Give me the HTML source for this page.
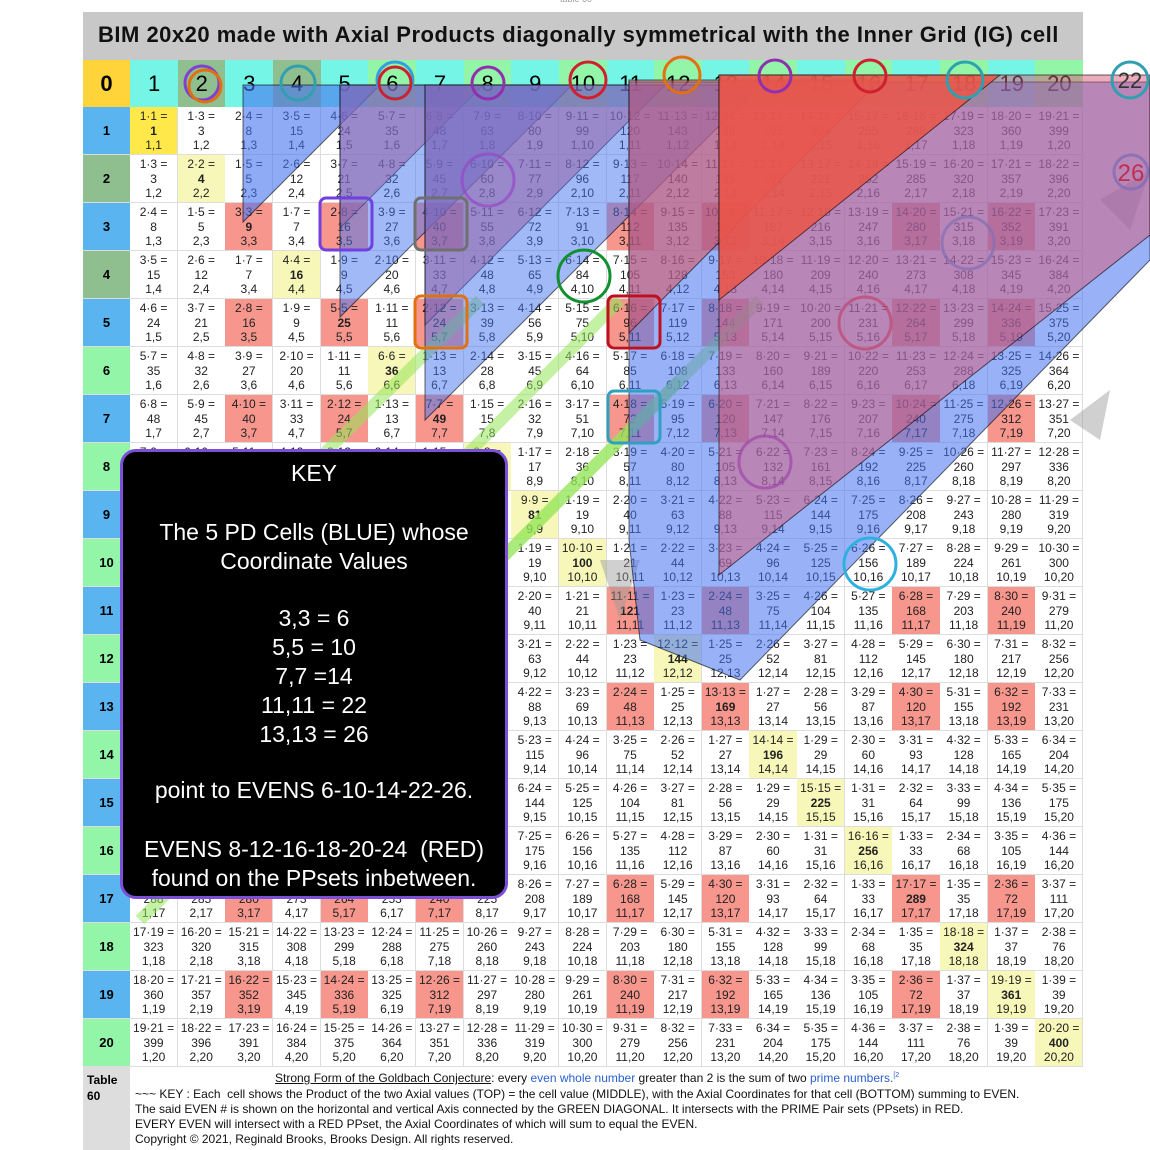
<!DOCTYPE html>
<html><head><meta charset="utf-8">
<style>
body{margin:0;width:1150px;height:1150px;background:#fff;position:relative;overflow:hidden;font-family:"Liberation Sans",sans-serif}
.a{position:absolute;box-sizing:border-box}
.c{position:absolute;box-sizing:border-box;border-right:1px solid #ddd;border-bottom:1px solid #ddd;text-align:center;font-size:12px;line-height:14.5px;color:#222;padding-top:2px;white-space:nowrap;overflow:hidden}
.h{position:absolute;box-sizing:border-box;text-align:center;font-size:22px;line-height:47px;color:#000}
.rh{position:absolute;box-sizing:border-box;text-align:center;font-size:13px;font-weight:bold;line-height:48px;border-bottom:1px solid #ddd}
#key{position:absolute;left:120px;top:449px;width:388px;height:450px;background:#000;border:3px solid #7b4fd8;border-radius:16px;color:#fff;text-align:center;font-size:23px;box-sizing:border-box}
#key div{position:absolute;left:0;right:0}
.f{position:absolute;left:135px;font-size:12px;color:#111;white-space:nowrap}
</style></head><body>
<div class="a" style="left:83px;top:12px;width:1000px;height:48px;background:#c8c8c8"></div>
<div class="a" style="left:98px;top:22px;font-size:22px;font-weight:bold;color:#111;letter-spacing:0.5px">BIM 20x20 made with Axial Products diagonally symmetrical with the Inner Grid (IG) cell</div>
<div class="a" style="left:560px;top:-6px;font-size:9px;color:#999">table 60</div>
<div id="grid"></div>
<svg class="a" style="left:0;top:0" width="1150" height="1150" viewBox="0 0 1150 1150">
<g stroke="rgba(150,230,90,0.55)" stroke-width="12" fill="none">
<line x1="480" y1="300" x2="135" y2="640"/>
<line x1="620" y1="300" x2="135" y2="790"/>
<line x1="680" y1="380" x2="240" y2="820"/>
<line x1="760" y1="300" x2="140" y2="920"/>
</g>
<g fill="rgba(150,150,150,0.45)">
<polygon points="1100,200 1150,170 1130,230"/>
<polygon points="1070,420 1110,390 1100,440"/>
<polygon points="600,560 640,560 620,620"/>
</g>
<g stroke="rgba(0,0,0,0.6)" stroke-width="1">
<polygon points="243,85 380,85 243,222" fill="rgba(70,115,240,0.6)"/>
<polygon points="340,85 483,85 340,228" fill="rgba(220,80,90,0.55)"/>
<polygon points="340,85 572,85 340,317" fill="rgba(70,115,240,0.5)"/>
<polygon points="425,85 665,85 425,325" fill="rgba(220,80,90,0.55)"/>
<polygon points="425,85 760,85 425,420" fill="rgba(70,115,240,0.5)"/>
<polygon points="629,82 1150,82 1150,260 740,680 640,640 629,540" fill="rgba(70,115,240,0.55)"/>
<polygon points="629,80 880,80 629,333" fill="rgba(220,80,90,0.55)"/>
<polygon points="719,75 1150,75 1150,235 719,575" fill="rgba(215,90,120,0.5)"/>
<polygon points="719,75 1000,75 719,300" fill="rgba(235,85,70,0.85)"/>
</g>
<g fill="none" stroke-width="3">
<circle cx="202" cy="83" r="17" stroke="#8040d0"/><circle cx="205" cy="86" r="16" stroke="#e07010"/>
<circle cx="298" cy="83" r="17" stroke="#30a0b0"/>
<circle cx="395" cy="80" r="18" stroke="#30a0e0"/><circle cx="395" cy="83" r="16" stroke="#d02030"/>
<circle cx="488" cy="83" r="16" stroke="#9030b0"/>
<circle cx="588" cy="80" r="18" stroke="#d02030"/>
<circle cx="682" cy="75" r="18" stroke="#e07010"/>
<circle cx="775" cy="76" r="16" stroke="#9030b0"/>
<circle cx="870" cy="76" r="16" stroke="#d02030"/>
<circle cx="965" cy="80" r="18" stroke="#30a0b0"/>
<circle cx="1130" cy="80" r="18" stroke="#30a0b0"/>
<circle cx="1131" cy="172" r="17" stroke="rgba(130,110,180,0.8)"/>
<rect x="320" y="198" width="52" height="52" rx="6" stroke="#7040e0"/>
<rect x="415" y="198" width="52" height="52" rx="6" stroke="#707070"/>
<rect x="415" y="296" width="52" height="52" rx="6" stroke="#e07010"/>
<rect x="608" y="296" width="52" height="52" rx="6" stroke="#c01020"/>
<rect x="608" y="391" width="52" height="52" rx="6" stroke="#30a0c0"/>
<circle cx="488" cy="180" r="26" stroke="rgba(150,70,200,0.7)"/>
<circle cx="584" cy="276" r="26" stroke="#109030"/>
<circle cx="870" cy="564" r="26" stroke="#30b0e0"/>
<circle cx="765" cy="462" r="26" stroke="rgba(160,70,170,0.7)"/>
<circle cx="968" cy="243" r="26" stroke="rgba(130,110,180,0.7)"/>
<circle cx="865" cy="323" r="26" stroke="rgba(190,60,100,0.6)"/>
</g>
<text x="1130" y="88" font-size="22" text-anchor="middle" fill="#333" font-family="Liberation Sans">22</text>
<text x="1131" y="181" font-size="24" text-anchor="middle" fill="#c03050" font-family="Liberation Sans">26</text>
</svg>
<div id="key">
<div style="top:8px">KEY</div>
<div style="top:66px;line-height:29px">The 5 PD Cells (BLUE) whose<br>Coordinate Values</div>
<div style="top:152px;line-height:29px">3,3 = 6<br>5,5 = 10<br>7,7 =14<br>11,11 = 22<br>13,13 = 26</div>
<div style="top:325px">point to EVENS 6-10-14-22-26.</div>
<div style="top:383px;line-height:29px">EVENS 8-12-16-18-20-24&nbsp; (RED)<br>found on the PPsets inbetween.</div>
</div>
<div class="a" style="left:83px;top:1067px;width:47px;height:83px;background:#ddd"></div>
<div class="a" style="left:87px;top:1072px;font-size:12px;font-weight:bold;line-height:16px">Table<br>60</div>
<div class="f" style="left:275px;top:1071px"><u>Strong Form of the Goldbach Conjecture</u>: every <span style="color:#2a5fd0">even whole number</span> greater than 2 is the sum of two <span style="color:#2a5fd0">prime numbers.</span><sup style="font-size:7px;color:#2a5fd0">[2</sup></div>
<div class="f" style="top:1087px">~~~ KEY : Each&nbsp; cell shows the Product of the two Axial values (TOP) = the cell value (MIDDLE), with the Axial Coordinates for that cell (BOTTOM) summing to EVEN.</div>
<div class="f" style="top:1102px">The said EVEN # is shown on the horizontal and vertical Axis connected by the GREEN DIAGONAL. It intersects with the PRIME Pair sets (PPsets) in RED.</div>
<div class="f" style="top:1117px">EVERY EVEN will intersect with a RED PPset, the Axial Coordinates of which will sum to equal the EVEN.</div>
<div class="f" style="top:1132px">Copyright © 2021, Reginald Brooks, Brooks Design. All rights reserved.</div>
<script>
(function(){
var g=document.getElementById('grid'),h='';
var X0=130,CW=47.65,Y0=107,RH=48;
var P={3:1,5:1,7:1,11:1,13:1,17:1,19:1};
h+='<div class="h" style="left:83px;top:60px;width:47px;height:47px;background:#ffd43b;font-weight:bold">0</div>';
for(var c=1;c<=20;c++){
 var bg=(c%2)?'#74f5e6':((c==2||c==4)?'#8fbf8f':'#92f5a8');
 h+='<div class="h" style="left:'+(X0+(c-1)*CW)+'px;top:60px;width:'+(CW+0.5)+'px;height:47px;background:'+bg+'">'+c+'</div>';
}
for(var r=1;r<=20;r++){
 var bg=(r%2)?'#5ab4f0':((r==2||r==4)?'#8fbf8f':'#92f5a8');
 h+='<div class="rh" style="left:83px;top:'+(Y0+(r-1)*RH)+'px;width:47px;height:'+RH+'px;background:'+bg+'">'+r+'</div>';
 for(var c=1;c<=20;c++){
  var lo=Math.min(r,c),hi=Math.max(r,c),a,b;
  if(r==c){a=c;b=c}else{a=hi-lo;b=hi+lo}
  var cb='#fff',bold=false;
  if(r==c){cb=(r==1)?'#ffe94a':'#f6f7b8';bold=true}
  if(P[r]&&P[c]&&!(r==19&&c==19)){cb='#f7968c'}
  var mid=bold?'<b>'+(a*b)+'</b>':(a*b);
  h+='<div class="c" style="left:'+(X0+(c-1)*CW)+'px;top:'+(Y0+(r-1)*RH)+'px;width:'+(CW+0.5)+'px;height:'+RH+'px;background:'+cb+'">'+a+'·'+b+' =<br>'+mid+'<br>'+lo+','+hi+'</div>';
 }
}
g.innerHTML=h;
})();
</script>
</body></html>
